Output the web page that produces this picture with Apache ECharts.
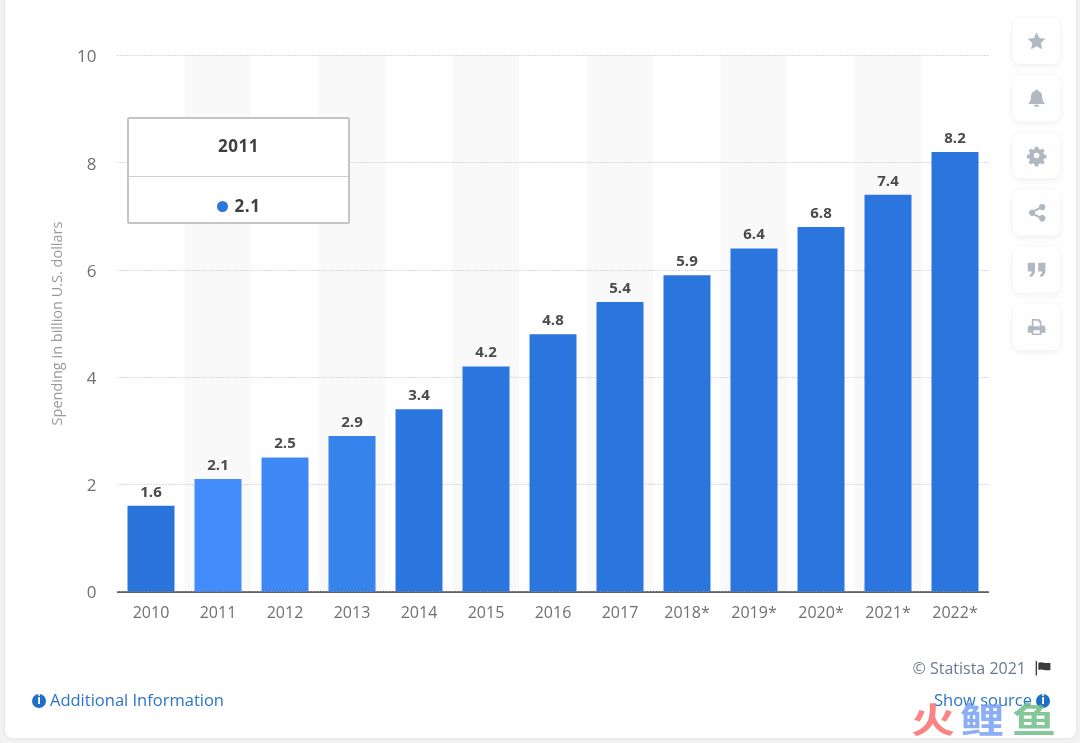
<!DOCTYPE html>
<html>
<head>
<meta charset="utf-8">
<title>Spending in billion U.S. dollars</title>
<script src="https://cdn.jsdelivr.net/npm/echarts@6/dist/echarts.min.js"></script>
<style>
	html, body { margin: 0; padding: 0; background: #f2f2f2; }
	#chart { width: 1080px; height: 743px; }
</style>
</head>
<body>
<div id="chart"></div>
<script>
const years = ['2010', '2011', '2012', '2013', '2014', '2015', '2016', '2017', '2018*', '2019*', '2020*', '2021*', '2022*'];
const spending = [1.6, 2.1, 2.5, 2.9, 3.4, 4.2, 4.8, 5.4, 5.9, 6.4, 6.8, 7.4, 8.2];
const bar_colors = ['#2a74db', '#428cfb', '#3e88f6', '#3783ec', '#2b76de', '#2b76de', '#2b76de', '#2b76de', '#2b76de', '#2b76de', '#2b76de', '#2b76de', '#2b76de'];
const y_title = 'Spending in billion U.S. dollars';
const hover_index = 1;

const font = '"Open Sans", "Noto Sans", sans-serif';
const icon_color = '#b0b8c2';

// 右侧按钮图标 24x24
const icons = [
	'M12 1l3.4 7.2 7.6 1-5.6 5.3 1.5 7.7L12 18.3 5.1 22.2l1.5-7.7L1 9.2l7.6-1z',
	'M12 1a2 2 0 0 1 2 2c3.5 .8 5 3.6 5 7 0 4 1 6 3 8v1H2v-1c2-2 3-4 3-8 0-3.4 1.5-6.2 5-7a2 2 0 0 1 2-2zM9 20h6a3 3 0 0 1-6 0z',
	'M10 1h4l.6 3 2.1 .9 2.6-1.7 2.8 2.8-1.7 2.6 .9 2.1 3 .6v4l-3 .6-.9 2.1 1.7 2.6-2.8 2.8-2.6-1.7-2.1 .9-.6 3h-4l-.6-3-2.1-.9-2.6 1.7-2.8-2.8 1.7-2.6-.9-2.1-3-.6v-4l3-.6 .9-2.1-1.7-2.6 2.8-2.8 2.6 1.7 2.1-.9zM12 8.5a3.5 3.5 0 1 0 0 7 3.5 3.5 0 0 0 0-7z',
	'M19 1a4 4 0 1 1-3 6.7l-6.1 3a4 4 0 0 1 0 2.6l6.1 3a4 4 0 1 1-1 2.4l-6.5-3.2a4 4 0 1 1 0-7l6.5-3.2A4 4 0 0 1 19 1z',
	'M1 3h9v9c0 5-2 8-6 9l-1-2.5c2-.7 3-2 3-4.5H1zM14 3h9v9c0 5-2 8-6 9l-1-2.5c2-.7 3-2 3-4.5h-5z',
	'M6 2h9l3 3v5h2a3 3 0 0 1 3 3v6h-5v3H6v-3H1v-6a3 3 0 0 1 3-3h2zM8 4v7h8V6h-2V4zM8 16v4h8v-4z',
];
const flag_path = 'M1 0h2v24H1zM5 3c6-3 9 2 18 0v12c-9 2-12-3-18 0z';

// graphic组件没有path类型 先注册成形状
icons.forEach((path, i) => {
	echarts.graphic.registerShape('icon' + i, echarts.graphic.extendPath(path, {}));
});
echarts.graphic.registerShape('flag', echarts.graphic.extendPath(flag_path, {}));

let tile_items = [];
icons.forEach((path, i) => {
	let top = 18 + i * 57.2;
	tile_items.push({
		type: 'rect',
		shape: { x: 1013, y: top, width: 47, height: 46, r: 7 },
		style: { fill: '#fefefe', shadowBlur: 8, shadowColor: 'rgba(0,0,0,0.07)', shadowOffsetY: 2 },
	});
	tile_items.push({
		type: 'icon' + i,
		x: 1027,
		y: top + 13.5,
		scaleX: 0.8,
		scaleY: 0.8,
		style: { fill: icon_color },
	});
});

function info_icon(cx, cy) {
	return [
		{ type: 'circle', shape: { cx: cx, cy: cy, r: 7 }, style: { fill: '#1f6fc5' } },
		{ type: 'text', style: { x: cx, y: cy, text: 'i', fill: '#fff', font: 'bold 12px ' + font, align: 'center', verticalAlign: 'middle' } },
	];
}

function mark_text(cx, text, color) {
	return {
		type: 'text',
		z: 50,
		x: cx,
		y: 720,
		scaleY: 0.8,
		style: { x: 0, y: 0, text: text, fill: color, font: 'bold 44px "Noto Sans CJK SC"', align: 'center', verticalAlign: 'middle' },
	};
}

let chart = echarts.init(document.getElementById('chart'));
let option = {
	animation: false,
	textStyle: { fontFamily: font },
	grid: { left: 117.5, right: 91.5, top: 55.5, bottom: 151.5 },
	tooltip: {
		trigger: 'item',
		alwaysShowContent: true,
		transitionDuration: 0,
		showDelay: 0,
		padding: 0,
		borderWidth: 0,
		backgroundColor: 'transparent',
		extraCssText: 'box-shadow:none;',
		position: () => [127, 117],
		formatter: (p) => {
			return `<div style="box-sizing:border-box;width:223px;height:107px;background:#fff;border:2px solid #c4c4c4;border-radius:2px;font-family:${font.replace(/"/g, "'")};font-weight:700;font-size:17px;letter-spacing:0.5px;color:#3f3f3f;text-align:center;">
				<div style="height:57px;line-height:53px;border-bottom:1px solid #cfcfcf;">${p.name}</div>
				<div style="line-height:58px;"><span style="display:inline-block;width:11px;height:11px;border-radius:50%;background:#2b76de;margin-right:7px;"></span>${p.value}</div>
			</div>`;
		},
	},
	xAxis: {
		type: 'category',
		data: years,
		axisTick: { show: false },
		axisLine: { lineStyle: { color: '#2e2e2e', width: 1.5 } },
		axisLabel: { color: '#707070', fontSize: 16, margin: 14, fontFamily: font },
		splitArea: { show: true, areaStyle: { color: ['#ffffff', '#f9f9f9'] } },
	},
	yAxis: {
		type: 'value',
		z: 1, // 否则网格线被x轴的splitArea盖住
		min: 0,
		max: 10,
		interval: 2,
		name: y_title,
		nameLocation: 'middle',
		nameGap: 52,
		nameTextStyle: { color: '#999999', fontSize: 14.5, fontFamily: font },
		axisLine: { show: false },
		axisTick: { show: false },
		axisLabel: {
			margin: 21,
			formatter: '{v|{value}}',
			rich: { v: { color: '#707070', fontSize: 17, fontFamily: font, padding: [4, 0, 0, 0] } },
		},
		splitLine: { lineStyle: { color: '#b4b4b4', type: [1, 2], width: 1 } },
	},
	series: [
		{
			type: 'bar',
			barWidth: 47,
			data: spending.map((v, i) => ({ value: v, itemStyle: { color: bar_colors[i] } })),
			emphasis: { disabled: true },
			label: {
				show: true,
				position: 'top',
				distance: 6,
				color: '#4a4a4a',
				fontSize: 15,
				fontWeight: 'bold',
				fontFamily: font,
				formatter: (p) => p.value.toFixed(1),
			},
		},
	],
	graphic: [
		// 卡片背景
		{
			type: 'rect',
			z: -10,
			silent: true,
			shape: { x: 5, y: -20, width: 1071, height: 758, r: 8 },
			style: { fill: '#ffffff', shadowBlur: 4, shadowColor: 'rgba(0,0,0,0.08)' },
		},
		...tile_items,
		{ type: 'text', style: { x: 1026, y: 669, text: '© Statista 2021', fill: '#6b7a8c', font: '16px ' + font, align: 'right', verticalAlign: 'middle' } },
		{ type: 'flag', x: 1035, y: 661, scaleX: 0.67, scaleY: 0.6, style: { fill: '#3c3c3c' } },
		...info_icon(39, 701),
		{ type: 'text', style: { x: 50, y: 701, text: 'Additional Information', fill: '#2a74c9', font: '16.5px ' + font, align: 'left', verticalAlign: 'middle' } },
		{ type: 'text', style: { x: 1032, y: 701, text: 'Show source', fill: '#2a74c9', font: '16.5px ' + font, align: 'right', verticalAlign: 'middle' } },
		...info_icon(1043, 701),
		// 水印
		mark_text(933, '火', 'rgba(249,110,110,0.85)'),
		mark_text(982, '鲤', 'rgba(120,160,245,0.85)'),
		mark_text(1034, '鱼', 'rgba(110,190,135,0.85)'),
	],
};
chart.setOption(option);
chart.dispatchAction({ type: 'showTip', seriesIndex: 0, dataIndex: hover_index });
</script>
</body>
</html>
